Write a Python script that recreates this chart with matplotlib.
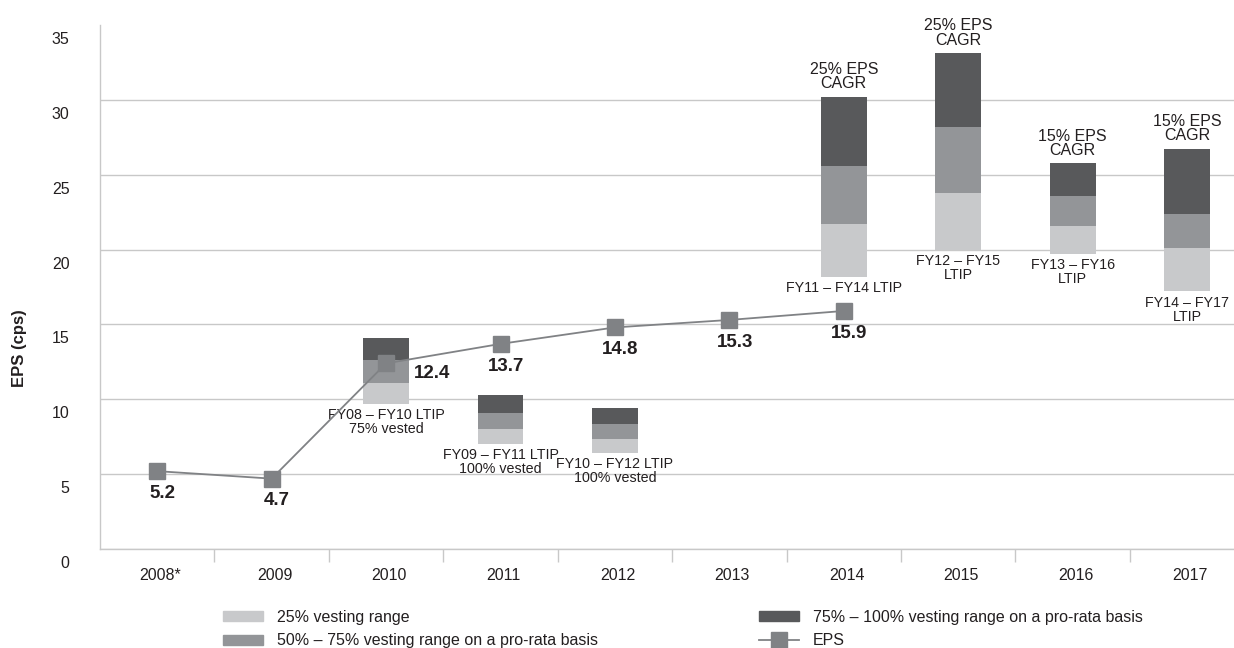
import matplotlib
matplotlib.use("Agg")
import matplotlib.pyplot as plt
from matplotlib.patches import Patch
from matplotlib.lines import Line2D
from matplotlib.transforms import ScaledTranslation

plt.rcParams["font.family"] = ["Liberation Sans", "DejaVu Sans"]

# --- dados ---
anos = ["2008*", "2009", "2010", "2011", "2012", "2013", "2014", "2015", "2016", "2017"]
eps = [5.2, 4.7, 12.4, 13.7, 14.8, 15.3, 15.9]

barra_idx = [2, 3, 4, 6, 7, 8, 9]
base = [9.7, 7.0, 6.4, 18.2, 20.0, 19.7, 17.2]
topo_claro = [11.1, 8.0, 7.35, 21.7, 23.8, 21.6, 20.1]
topo_medio = [12.6, 9.1, 8.35, 25.6, 28.2, 23.55, 22.35]
topo_escuro = [14.1, 10.3, 9.4, 30.2, 33.1, 25.75, 26.75]

rotulos_baixo = ["FY08 – FY10 LTIP\n75% vested", "FY09 – FY11 LTIP\n100% vested",
                 "FY10 – FY12 LTIP\n100% vested", "FY11 – FY14 LTIP",
                 "FY12 – FY15\nLTIP", "FY13 – FY16\nLTIP", "FY14 – FY17\nLTIP"]
rotulos_cima = ["", "", "", "25% EPS\nCAGR", "25% EPS\nCAGR", "15% EPS\nCAGR", "15% EPS\nCAGR"]

legenda = ["25% vesting range", "50% – 75% vesting range on a pro-rata basis",
           "75% – 100% vesting range on a pro-rata basis", "EPS"]

c_claro, c_medio, c_escuro = "#c8c9cb", "#939598", "#58595b"
c_linha = "#808285"
c_grade = "#c8c8c8"
c_texto = "#231f20"

fig = plt.figure(figsize=(12.34, 6.48), dpi=100)
ax = fig.add_axes([100 / 1234, 1 - 549 / 648, 1 - 100 / 1234, (549 - 25) / 648])

# barras empilhadas flutuantes
h1 = [t - b for t, b in zip(topo_claro, base)]
h2 = [t - b for t, b in zip(topo_medio, topo_claro)]
h3 = [t - b for t, b in zip(topo_escuro, topo_medio)]
ax.bar(barra_idx, h1, bottom=base, width=0.4, color=c_claro, zorder=2)
ax.bar(barra_idx, h2, bottom=topo_claro, width=0.4, color=c_medio, zorder=2)
ax.bar(barra_idx, h3, bottom=topo_medio, width=0.4, color=c_escuro, zorder=2)

for x, b, t, tb, tc in zip(barra_idx, base, topo_escuro, rotulos_baixo, rotulos_cima):
    ax.annotate(tb, (x, b), xytext=(0, -3), textcoords="offset points",
                ha="center", va="top", fontsize=10.3, linespacing=1.0, color=c_texto, zorder=4)
    if tc:
        ax.annotate(tc, (x, t), xytext=(0, 4), textcoords="offset points",
                    ha="center", va="bottom", fontsize=11.5, linespacing=0.95, color=c_texto)

# linha EPS
xs = list(range(len(eps)))
ax.plot(xs, eps, color=c_linha, linewidth=1.3, marker="s", markersize=11.5,
        markerfacecolor=c_linha, markeredgecolor=c_linha, zorder=5)
for x, v in zip(xs, eps):
    off = (33, -7) if x == 2 else (4, -16)
    ax.annotate(f"{v}", (x, v), xytext=off, textcoords="offset points",
                ha="center", va="center", fontsize=13.5, fontweight="bold", color=c_texto)

# eixos
ax.set_ylim(0, 35)
ax.set_xlim(-0.5, 9.41)
ax.set_yticks(range(0, 36, 5))
ax.set_xticks(range(len(anos)))
ax.set_xticklabels(anos)
ax.set_xticks([i + 0.5 for i in range(9)], minor=True)
ax.tick_params(axis="x", which="major", length=0, pad=14, labelsize=11.5, labelcolor=c_texto)
ax.tick_params(axis="x", which="minor", length=9.5, color=c_grade, width=1)
ax.tick_params(axis="y", length=0, pad=22, labelsize=11.5, labelcolor=c_texto)
for lb in ax.get_yticklabels():
    lb.set_transform(lb.get_transform() + ScaledTranslation(0, -0.13, fig.dpi_scale_trans))
for lb in ax.get_xticklabels():
    lb.set_transform(lb.get_transform() + ScaledTranslation(0.03, 0, fig.dpi_scale_trans))

ax.yaxis.grid(True, color=c_grade, linewidth=1)
ax.set_axisbelow(True)
ax.get_ygridlines()[-1].set_visible(False)
for s in ["top", "right"]:
    ax.spines[s].set_visible(False)
for s in ["left", "bottom"]:
    ax.spines[s].set_color(c_grade)
    ax.spines[s].set_linewidth(1)

fig.text(20 / 1234, 1 - 348 / 648, "EPS (cps)", rotation=90, ha="center", va="center",
         fontsize=12, fontweight="bold", color=c_texto)

# legenda
hs = [Patch(color=c_claro), Patch(color=c_medio), Patch(color=c_escuro),
      Line2D([0], [0], color=c_linha, linewidth=1.3, marker="s", markersize=11.5)]
kw = dict(frameon=False, fontsize=11.5, handlelength=2.5, handleheight=0.56,
          handletextpad=0.87, labelspacing=0.53, borderaxespad=0, borderpad=0,
          loc="upper left", labelcolor=c_texto)
fig.legend(hs[:2], legenda[:2], bbox_to_anchor=(223 / 1234, 1 - 610 / 648), **kw)
fig.legend(hs[2:], legenda[2:], bbox_to_anchor=(759 / 1234, 1 - 610 / 648), **kw)

plt.savefig("out.png", dpi=100)
